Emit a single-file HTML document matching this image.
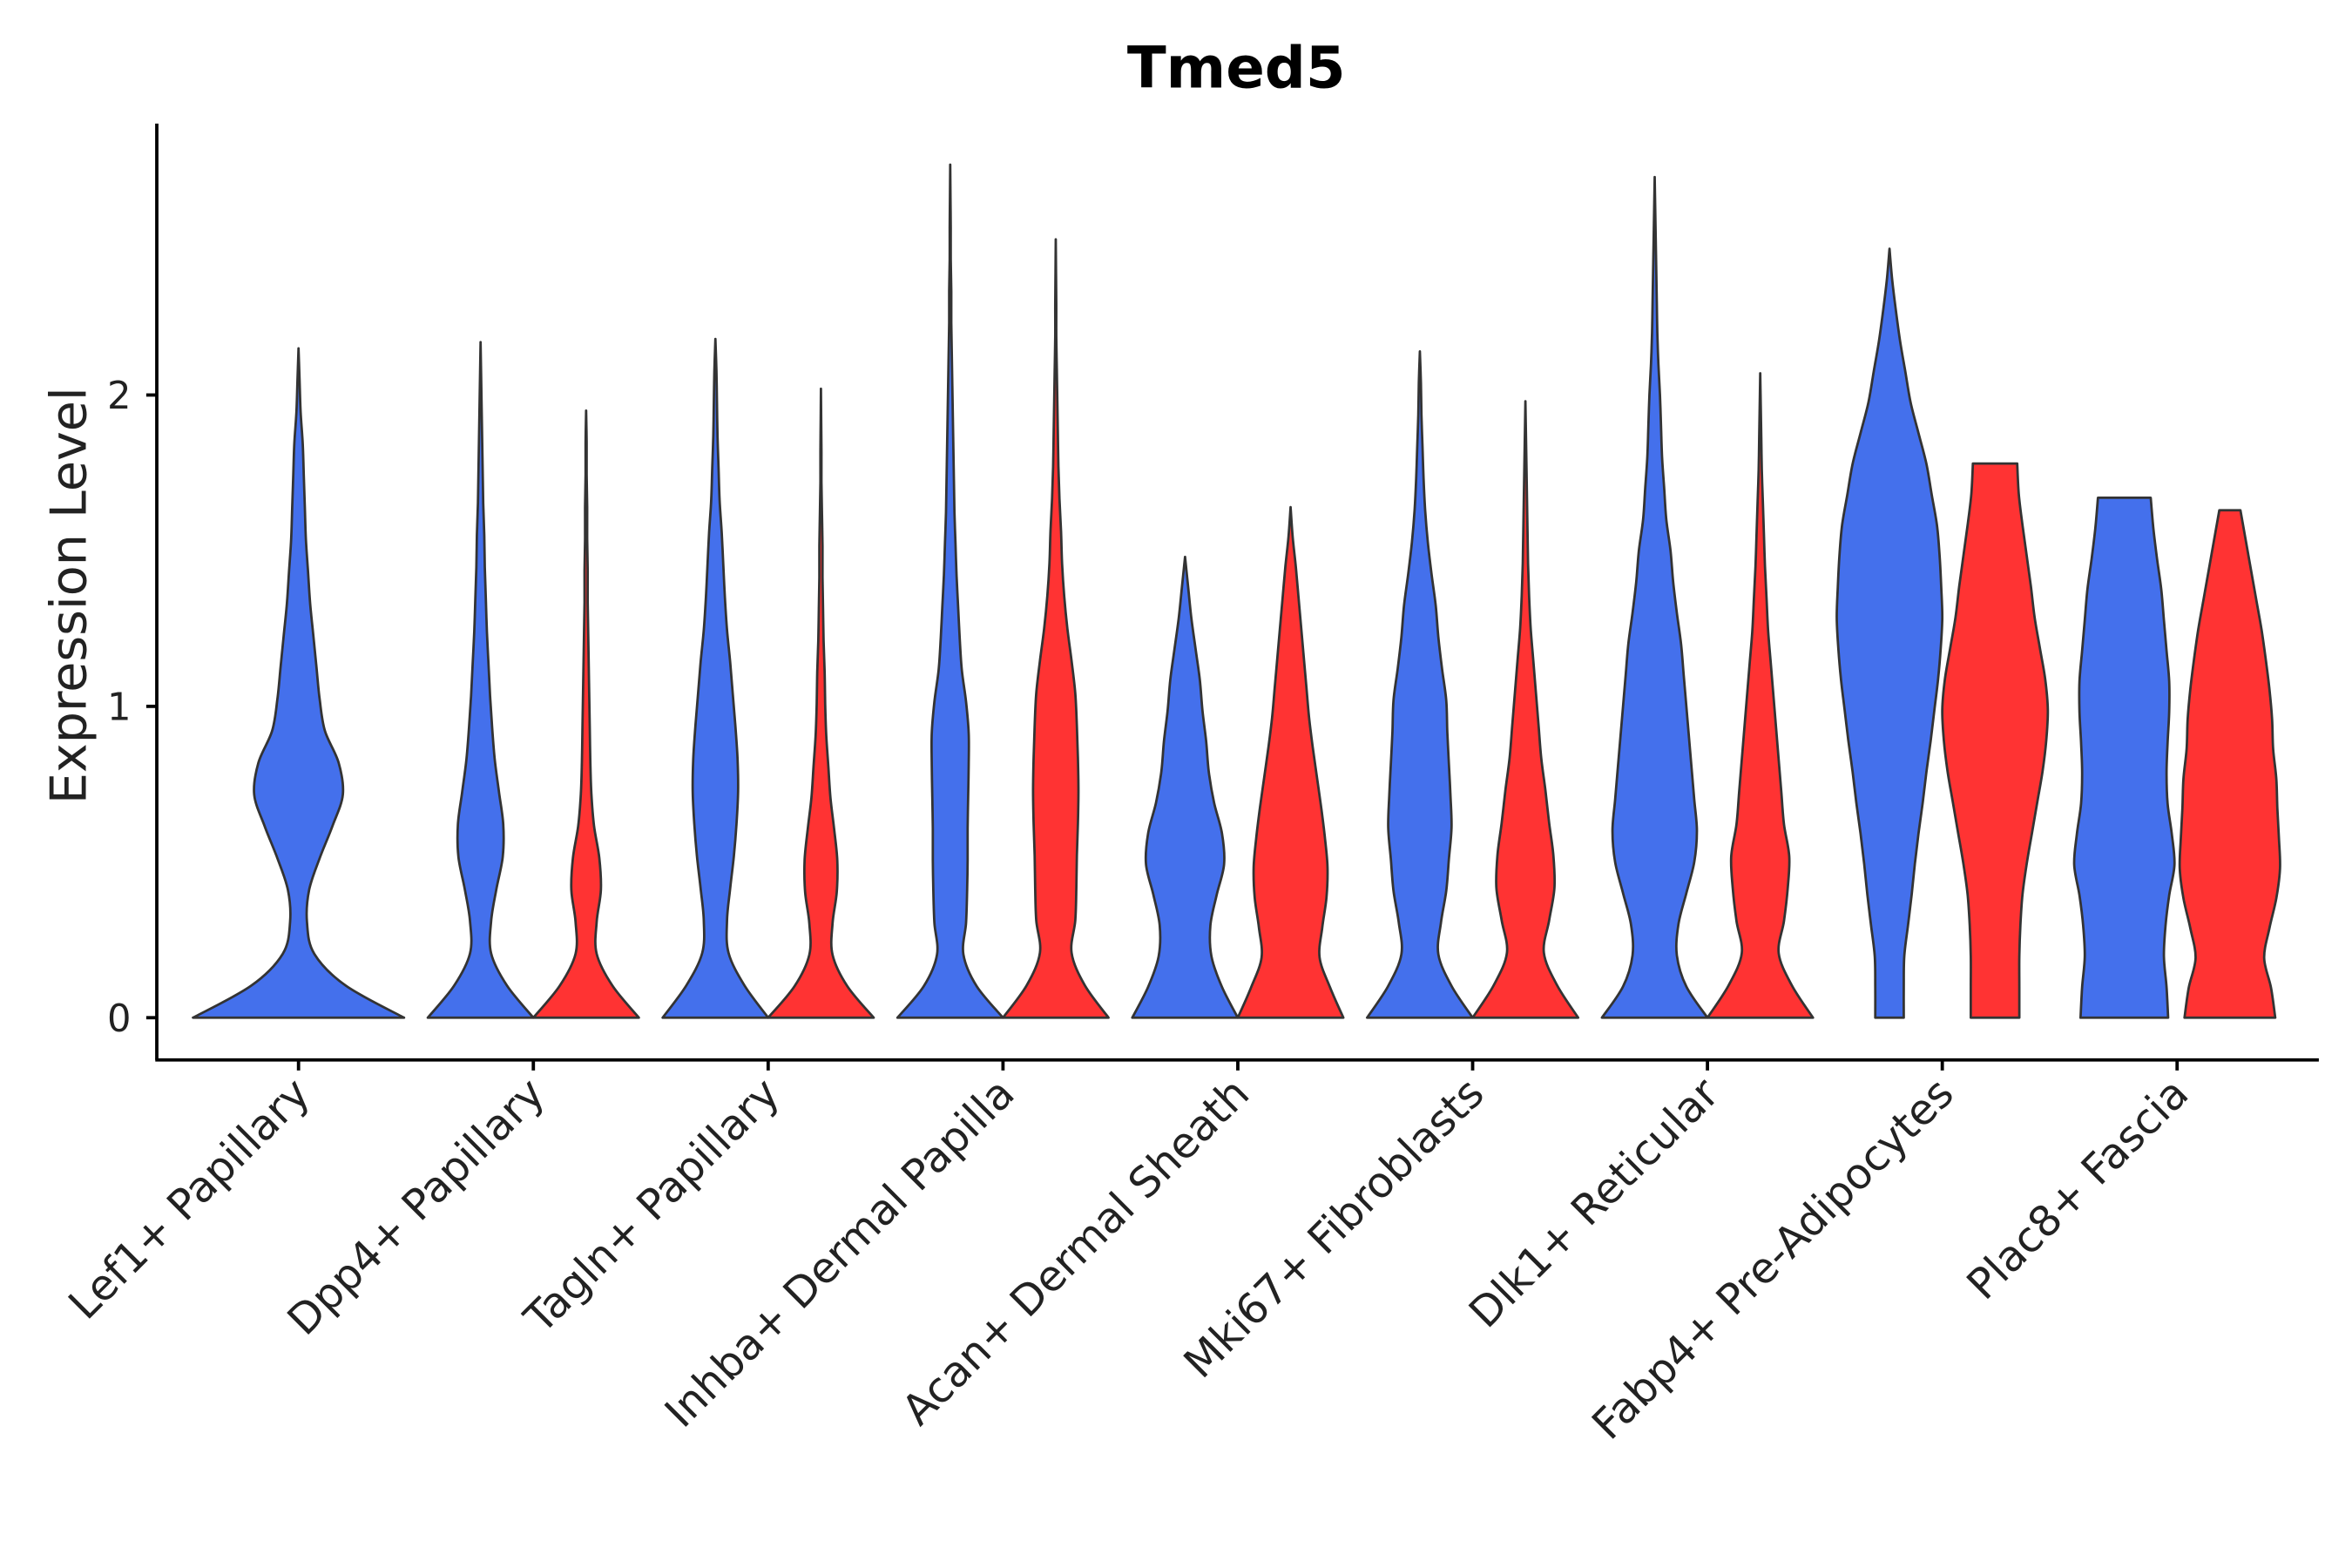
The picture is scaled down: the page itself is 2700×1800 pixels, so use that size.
<!DOCTYPE html>
<html><head><meta charset="utf-8">
<style>
html,body{margin:0;padding:0;background:#fff;}
svg{display:block;font-family:"DejaVu Sans","Liberation Sans",sans-serif;}
</style></head>
<body>
<svg id="chart" width="2700" height="1800" viewBox="0 0 1560 1040" xmlns="http://www.w3.org/2000/svg">
<rect width="1560" height="1040" fill="#fff"/>
<text x="820" y="58" text-anchor="middle" font-size="38" font-weight="bold">Tmed5</text>
<text transform="translate(57,395) rotate(-90)" text-anchor="middle" font-size="33" fill="#222">Expression Level</text>
<g id="violins"></g>
<g id="axes"></g>
</svg>
<script>
const categories = ["Lef1+ Papillary","Dpp4+ Papillary","Tagln+ Papillary","Inhba+ Dermal Papilla","Acan+ Dermal Sheath","Mki67+ Fibroblasts","Dlk1+ Reticular","Fabp4+ Pre-Adipocytes","Plac8+ Fascia"];
const blueMax = [2.15,2.17,2.18,2.74,1.48,2.14,2.7,2.47,1.67];
const redMax = [null,1.95,2.02,2.5,1.64,1.98,2.07,1.78,1.63];
const blueWidths = [
 [1.0,0.45,0.15,0.08,0.1,0.2,0.32,0.42,0.38,0.25,0.2,0.17,0.14,0.11,0.09,0.07,0.06,0.05,0.04,0.02,0.01,0.0],
 [1.0,0.5,0.2,0.2,0.3,0.42,0.43,0.35,0.27,0.22,0.18,0.15,0.12,0.1,0.08,0.07,0.05,0.04,0.03,0.02,0.01,0.0],
 [1,0.55,0.25,0.22,0.28,0.35,0.4,0.43,0.42,0.38,0.33,0.28,0.22,0.18,0.15,0.12,0.08,0.06,0.04,0.03,0.02,0.0],
 [1,0.5,0.25,0.3,0.32,0.33,0.33,0.34,0.35,0.35,0.3,0.22,0.18,0.15,0.12,0.1,0.08,0.07,0.06,0.05,0.04,0.03,0.02,0.02,0.01,0.01,0.005,0.0],
 [1,0.7,0.5,0.48,0.6,0.74,0.7,0.55,0.45,0.4,0.33,0.28,0.2,0.12,0.06,0.0],
 [1,0.6,0.35,0.4,0.5,0.55,0.6,0.58,0.55,0.52,0.5,0.42,0.35,0.3,0.22,0.15,0.1,0.07,0.05,0.03,0.02,0.0],
 [1,0.6,0.42,0.45,0.6,0.75,0.8,0.75,0.7,0.65,0.6,0.55,0.5,0.42,0.35,0.3,0.22,0.18,0.14,0.12,0.1,0.07,0.05,0.04,0.03,0.02,0.01,0.0],
 [0.27,0.27,0.28,0.35,0.42,0.48,0.55,0.63,0.7,0.78,0.85,0.92,0.97,1.0,0.98,0.95,0.9,0.8,0.7,0.55,0.4,0.3,0.2,0.12,0.05,0.0],
 [0.83,0.8,0.75,0.78,0.85,0.95,0.9,0.82,0.8,0.82,0.85,0.85,0.8,0.75,0.7,0.62,0.55,0.5]
];
const redWidths = [
 null,
 [1.0,0.5,0.2,0.2,0.28,0.25,0.15,0.1,0.08,0.07,0.06,0.05,0.04,0.03,0.03,0.02,0.02,0.01,0.01,0.0],
 [1,0.5,0.22,0.22,0.3,0.31,0.25,0.18,0.14,0.1,0.08,0.07,0.05,0.04,0.03,0.03,0.02,0.01,0.01,0.005,0.0],
 [1,0.55,0.3,0.37,0.39,0.4,0.42,0.43,0.42,0.4,0.37,0.3,0.22,0.16,0.12,0.1,0.07,0.05,0.04,0.03,0.02,0.01,0.01,0.005,0.0],
 [1,0.75,0.55,0.6,0.68,0.7,0.65,0.58,0.5,0.42,0.35,0.3,0.25,0.2,0.15,0.1,0.04,0.0],
 [1,0.6,0.35,0.45,0.55,0.53,0.45,0.38,0.3,0.25,0.2,0.15,0.1,0.07,0.05,0.04,0.03,0.02,0.01,0.0],
 [1,0.6,0.35,0.45,0.52,0.55,0.45,0.4,0.35,0.3,0.25,0.2,0.15,0.12,0.09,0.07,0.05,0.03,0.02,0.01,0.0],
 [0.46,0.46,0.46,0.48,0.52,0.6,0.7,0.8,0.9,0.97,1.0,0.95,0.85,0.75,0.68,0.6,0.52,0.45,0.42],
 [0.86,0.78,0.65,0.75,0.88,0.95,0.93,0.9,0.88,0.82,0.8,0.75,0.68,0.6,0.5,0.4,0.3,0.2]
];
const yTicks = [0,1,2];

const NS = "http://www.w3.org/2000/svg";
const X0 = 198, DX = 155.75;
function xScale(i){ return X0 + i*DX; }
function yScale(v){ return 675 - v*206.5; }
function mk(tag, attrs, parent){
  const e = document.createElementNS(NS, tag);
  for (const k in attrs) e.setAttribute(k, attrs[k]);
  parent.appendChild(e); return e;
}
function smoothPts(pts){
  let d = "";
  for (let i=0;i<pts.length-1;i++){
    const p0 = pts[Math.max(0,i-1)], p1 = pts[i], p2 = pts[i+1], p3 = pts[Math.min(pts.length-1,i+2)];
    const c1x = p1[0]+(p2[0]-p0[0])/6, c1y = p1[1]+(p2[1]-p0[1])/6;
    const c2x = p2[0]-(p3[0]-p1[0])/6, c2y = p2[1]-(p3[1]-p1[1])/6;
    d += ` C${c1x.toFixed(2)},${c1y.toFixed(2)} ${c2x.toFixed(2)},${c2y.toFixed(2)} ${p2[0].toFixed(2)},${p2[1].toFixed(2)}`;
  }
  return d;
}
function violinPath(cx, half, maxV, widths){
  const n = widths.length;
  const right = [], left = [];
  for (let k=0;k<n;k++){
    const v = maxV*k/(n-1);
    right.push([cx + widths[k]*half, yScale(v)]);
  }
  for (let k=n-1;k>=0;k--){
    const v = maxV*k/(n-1);
    left.push([cx - widths[k]*half, yScale(v)]);
  }
  let d = `M${left[left.length-1][0].toFixed(2)},${left[left.length-1][1].toFixed(2)} L${right[0][0].toFixed(2)},${right[0][1].toFixed(2)}`;
  d += smoothPts(right);
  d += ` L${left[0][0].toFixed(2)},${left[0][1].toFixed(2)}`;
  d += smoothPts(left);
  return d + " Z";
}
const gv = document.getElementById("violins");
for (let i=0;i<categories.length;i++){
  const cx = xScale(i);
  if (redWidths[i] === null){
    const p = mk("path", {d: violinPath(cx, 70, blueMax[i], blueWidths[i]), fill:"#4470EC", stroke:"#333", "stroke-width":"1.6", "stroke-linejoin":"round"}, gv);
    
    
  } else {
    const pb = mk("path", {d: violinPath(cx-35, 35, blueMax[i], blueWidths[i]), fill:"#4470EC", stroke:"#333", "stroke-width":"1.6", "stroke-linejoin":"round"}, gv);
    
    
    const pr = mk("path", {d: violinPath(cx+35, 35, redMax[i], redWidths[i]), fill:"#FF3333", stroke:"#333", "stroke-width":"1.6", "stroke-linejoin":"round"}, gv);
    
    
  }
}
const ga = document.getElementById("axes");
const yl = mk("line", {x1:104, y1:82, x2:104, y2:703, stroke:"#000", "stroke-width":"2.2"}, ga);


const xl = mk("line", {x1:103, y1:703, x2:1538, y2:703, stroke:"#000", "stroke-width":"2.2"}, ga);


yTicks.forEach(t=>{
  const y = yScale(t);
  const tk = mk("line", {x1:97, y1:y, x2:104, y2:y, stroke:"#000", "stroke-width":"2.2"}, ga);
  
  
  const tl = mk("text", {x:87, y:y+9, "text-anchor":"end", "font-size":"25", fill:"#222"}, ga);
  tl.textContent = t;
  
  
});
categories.forEach((c,i)=>{
  const x = xScale(i);
  const tk = mk("line", {x1:x, y1:703, x2:x, y2:710, stroke:"#000", "stroke-width":"2.2"}, ga);
  
  
  const tl = mk("text", {transform:`translate(${x+9},${727}) rotate(-45)`, "text-anchor":"end", "font-size":"28", fill:"#222"}, ga);
  tl.textContent = c;
  
  
});
</script>
</body></html>
